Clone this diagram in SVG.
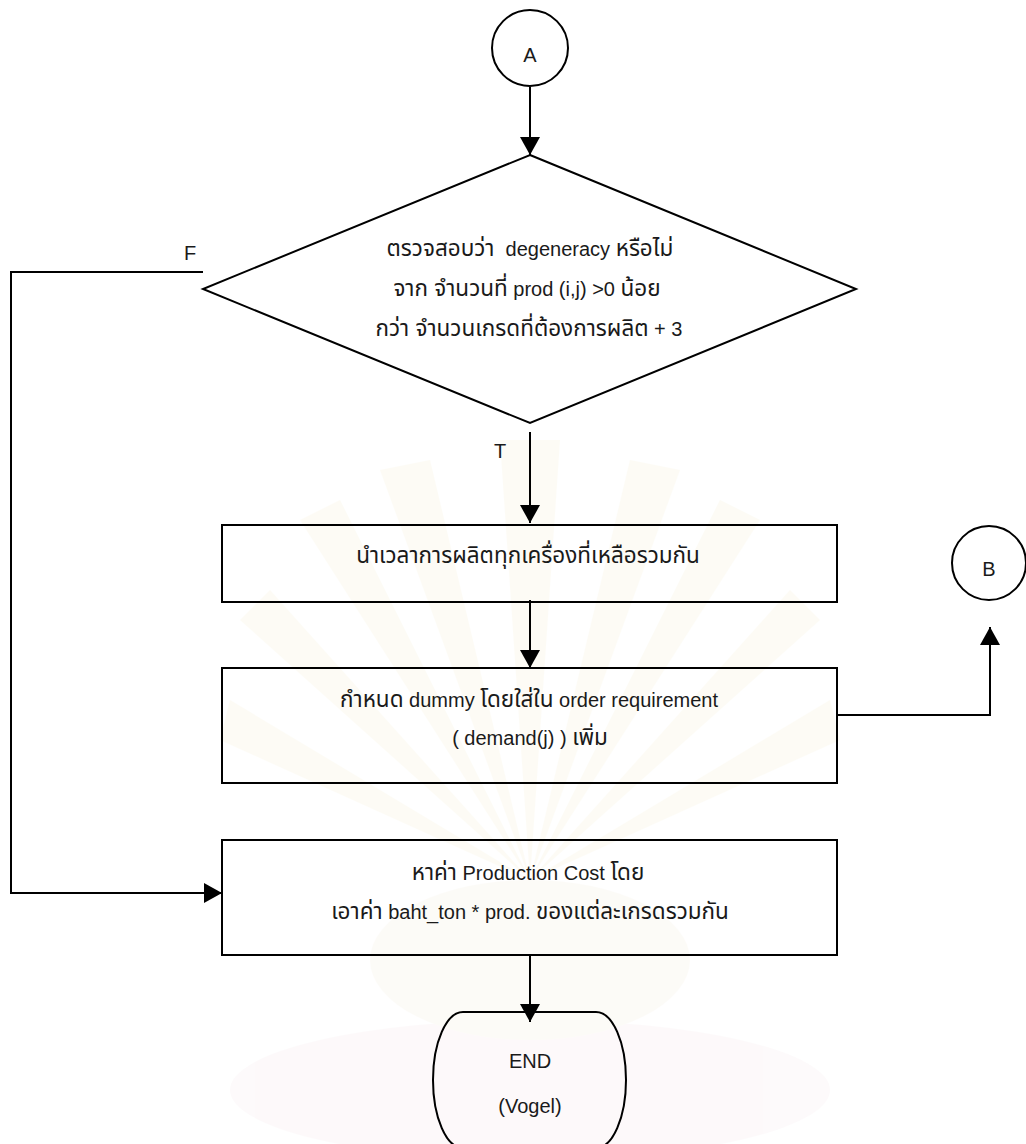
<svg xmlns="http://www.w3.org/2000/svg" width="1026" height="1144" viewBox="0 0 1026 1144">
  <style>
    .shape { fill: none; stroke: #000; stroke-width: 2; }
    .conn { fill: none; stroke: #000; stroke-width: 2; }
    .lbl { font-family: "Liberation Sans", "Noto Sans Thai", "Noto Sans Thai Looped", "Loma", "Garuda", "Tlwg Typo", sans-serif; font-size: 20px; fill: #1a1a1a; text-anchor: middle; }
    .th { font-size: 22.5px; }
  </style>
  <defs>
    <marker id="arrow" markerUnits="userSpaceOnUse" markerWidth="20" markerHeight="22" refX="18" refY="10" orient="auto">
      <path d="M0 0 L18 10 L0 20 Z" fill="#000"/>
    </marker>
  </defs>

  <rect width="1026" height="1144" fill="#fff"/>

  <!-- faint background emblem -->
  <g id="emblem" opacity="0.12">
    <g fill="#f4e6b4">
      <polygon points="530,880 380,470 430,460"/>
      <polygon points="530,880 630,460 680,470"/>
      <polygon points="530,880 300,520 340,500"/>
      <polygon points="530,880 720,500 760,520"/>
      <polygon points="530,880 240,620 270,590"/>
      <polygon points="530,880 790,590 820,620"/>
      <polygon points="530,880 500,440 560,440"/>
      <polygon points="530,880 220,740 230,700"/>
      <polygon points="530,880 830,700 840,740"/>
    </g>
    <ellipse cx="530" cy="1090" rx="300" ry="70" fill="#f2d6dd"/>
    <ellipse cx="530" cy="960" rx="160" ry="80" fill="#eee2c6"/>
  </g>

  <!-- connectors -->
  <g id="connectors">
    <path class="conn" d="M530 87 V155" marker-end="url(#arrow)"/>
    <path class="conn" d="M530 432 V523" marker-end="url(#arrow)"/>
    <path class="conn" d="M530 600 V668" marker-end="url(#arrow)"/>
    <path class="conn" d="M837 715 H990 V627" marker-end="url(#arrow)"/>
    <path class="conn" d="M203 272 H11 V893 H222" marker-end="url(#arrow)"/>
    <path class="conn" d="M530 955 V1022" marker-end="url(#arrow)"/>
    <text class="lbl" x="190" y="260">F</text>
    <text class="lbl" x="500" y="458">T</text>
  </g>

  <g id="connector-a">
    <circle class="shape" cx="530" cy="48" r="38"/>
    <text class="lbl" x="530" y="62">A</text>
  </g>

  <g id="degeneracy-check">
    <polygon class="shape" points="530,155 856,289 530,423 203,289"/>
    <text class="lbl" x="530" y="256" xml:space="preserve"><tspan class="th">ตรวจสอบว่า</tspan>  degeneracy <tspan class="th">หรือไม่</tspan></text>
    <text class="lbl" x="527" y="296"><tspan class="th">จาก จำนวนที่</tspan> prod (i,j) &gt;0 <tspan class="th">น้อย</tspan></text>
    <text class="lbl" x="529" y="336"><tspan class="th">กว่า จำนวนเกรดที่ต้องการผลิต</tspan> + 3</text>
  </g>

  <g id="sum-time">
    <rect class="shape" x="222" y="525" width="615" height="77"/>
    <text class="lbl th" x="528" y="563">นำเวลาการผลิตทุกเครื่องที่เหลือรวมกัน</text>
  </g>

  <g id="add-dummy">
    <rect class="shape" x="222" y="668" width="615" height="115"/>
    <text class="lbl" x="529" y="707"><tspan class="th">กำหนด</tspan> dummy <tspan class="th">โดยใส่ใน</tspan> order requirement</text>
    <text class="lbl" x="530" y="745">( demand(j) ) <tspan class="th">เพิ่ม</tspan></text>
  </g>

  <g id="connector-b">
    <circle class="shape" cx="989" cy="563" r="37"/>
    <text class="lbl" x="989" y="576">B</text>
  </g>

  <g id="production-cost">
    <rect class="shape" x="222" y="840" width="615" height="115"/>
    <text class="lbl" x="528" y="880"><tspan class="th">หาค่า</tspan> Production Cost <tspan class="th">โดย</tspan></text>
    <text class="lbl" x="530" y="919"><tspan class="th">เอาค่า</tspan> baht_ton * prod. <tspan class="th">ของแต่ละเกรดรวมกัน</tspan></text>
  </g>

  <g id="end">
    <path class="shape" d="M463 1012 H596 A30 68 0 0 1 596 1148 H463 A30 68 0 0 1 463 1012 Z"/>
    <text class="lbl" x="530" y="1068">END</text>
    <text class="lbl" x="530" y="1113">(Vogel)</text>
  </g>
</svg>
